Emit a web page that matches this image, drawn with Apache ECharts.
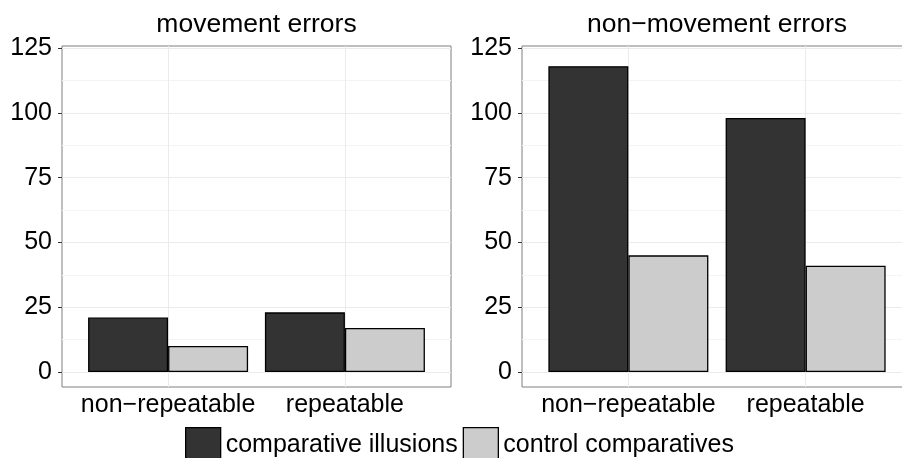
<!DOCTYPE html>
<html><head><meta charset="utf-8">
<script src="https://cdn.jsdelivr.net/npm/echarts@6/dist/echarts.min.js"></script>
<style>html,body{margin:0;padding:0;background:#fff}#c{width:902px;height:458px}</style>
</head><body><div id="c"></div>
<script>
const panelTitles = ['movement errors', 'non\u2212movement errors'];
const categories = ['non\u2212repeatable', 'repeatable'];
const seriesNames = ['comparative illusions', 'control comparatives'];
const movementIllusions = [21, 23];
const movementControl = [10, 17];
const nonMovementIllusions = [118, 98];
const nonMovementControl = [45, 41];
const yTicks = [0, 25, 50, 75, 100, 125];
const yMinorTicks = [12.5, 37.5, 62.5, 87.5, 112.5];

const panelData = [[movementIllusions, movementControl], [nonMovementIllusions, nonMovementControl]];
const fills = ['#333333', '#cccccc'];
const catPos = categories.map((c, k) => k + 1);
const FONT = 'Liberation Sans, Arial, Helvetica, sans-serif';

const grids = [
  {left: 62, top: 46, width: 389, height: 341},
  {left: 522, top: 46, width: 390, height: 341}
];
const xAxes = [], yAxes = [], series = [];
grids.forEach((g, i) => {
  Object.assign(g, {show: true, borderColor: '#7f7f7f', borderWidth: 1, backgroundColor: '#fff', containLabel: false, outerBoundsMode: 'none'});
  xAxes.push({
    gridIndex: i, type: 'value', min: 0.4, max: 2.6, position: 'bottom',
    axisLine: {show: false}, splitLine: {show: false},
    axisTick: {show: true, customValues: catPos, length: 4, lineStyle: {color: '#333', width: 1}},
    axisLabel: {customValues: catPos, formatter: v => categories[Math.round(v) - 1], fontSize: 25, color: '#000', margin: 5.5, fontFamily: FONT}
  });
  xAxes.push({
    gridIndex: i, type: 'value', min: 0.4, max: 2.6, position: 'top',
    name: panelTitles[i], nameLocation: 'middle', nameGap: 7.6,
    nameTextStyle: {fontSize: 26.5, color: '#000', fontFamily: FONT},
    axisLine: {show: false}, axisTick: {show: false}, axisLabel: {show: false}, splitLine: {show: false}
  });
  yAxes.push({
    gridIndex: i, type: 'value', min: -5.8, max: 125.8,
    axisLine: {show: false}, splitLine: {show: false},
    axisTick: {show: true, customValues: yTicks, length: 4, lineStyle: {color: '#333', width: 1}},
    axisLabel: {customValues: yTicks, fontSize: 25, color: '#000', margin: 10, fontFamily: FONT}
  });
  const lines = [];
  yMinorTicks.forEach(v => lines.push({yAxis: v, lineStyle: {color: '#F4F4F4', width: 1, type: 'solid'}}));
  yTicks.forEach(v => lines.push({yAxis: v, lineStyle: {color: '#EBEBEB', width: 1, type: 'solid'}}));
  catPos.forEach(v => lines.push({xAxis: v, lineStyle: {color: '#EBEBEB', width: 1, type: 'solid'}}));
  series.push({
    type: 'line', xAxisIndex: 2 * i, yAxisIndex: i, data: [], z: 1, silent: true,
    markLine: {z: 1, silent: true, symbol: ['none', 'none'], label: {show: false}, animation: false, data: lines}
  });
  panelData[i].forEach((vals, s) => {
    series.push({
      type: 'bar', name: seriesNames[s], xAxisIndex: 2 * i, yAxisIndex: i, z: 3,
      data: vals.map((v, k) => [catPos[k], v]),
      barWidth: 80, barGap: '0%',
      itemStyle: {color: fills[s], borderColor: '#000', borderWidth: 1.3},
      emphasis: {disabled: true}
    });
  });
});

const chart = echarts.init(document.getElementById('c'), null, {renderer: 'canvas'});
chart.setOption({
  animation: false,
  textStyle: {fontFamily: FONT},
  grid: grids, xAxis: xAxes, yAxis: yAxes, series: series,
  legend: {
    data: seriesNames, left: 185, top: 427, padding: 0, itemWidth: 35, itemHeight: 35, itemGap: 5,
    icon: 'rect', textStyle: {fontSize: 25, color: '#000', fontFamily: FONT},
    itemStyle: {borderColor: '#000', borderWidth: 1.3}
  }
});
</script></body></html>
